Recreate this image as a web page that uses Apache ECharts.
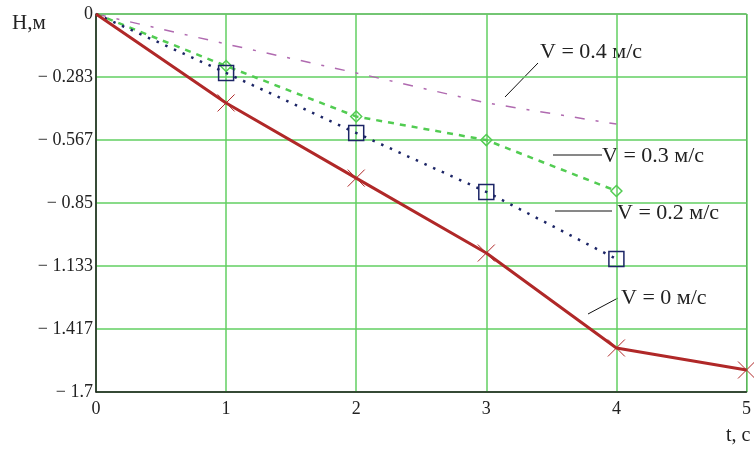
<!DOCTYPE html>
<html>
<head>
<meta charset="utf-8">
<script src="https://cdn.jsdelivr.net/npm/echarts@6/dist/echarts.min.js"></script>
<style>
  html, body { margin: 0; padding: 0; background: #fff; }
  #chart { width: 754px; height: 450px; }
</style>
</head>
<body>
<div id="chart"></div>
<script>
// Time, s
const times = [0, 1, 2, 3, 4, 5];

// Depth H (m) versus time for each flow velocity V
const depthV0  = [0, -0.400, -0.738, -1.075, -1.502, -1.601];
const depthV02 = [0, -0.265, -0.535, -0.800, -1.102];
const depthV03 = [0, -0.234, -0.461, -0.567, -0.796];
const depthV04 = [0, -0.135, -0.265, -0.400, -0.495];

// Axis tick labels
const yTickLabels = ['0', '− 0.283', '− 0.567', '− 0.85', '− 1.133', '− 1.417', '− 1.7'];
const xTickLabels = ['0', '1', '2', '3', '4', '5'];

const Y_MIN = -1.7;
const Y_STEP = 1.7 / 6;

const serif = "'Liberation Serif', 'Times New Roman', serif";
const textColor = '#222';

// [t, H] pairs; the shared starting point carries no marker
function pairs(ys) {
  return ys.map((y, i) => i === 0 ? { value: [times[i], y], symbol: 'none' } : [times[i], y]);
}

const chart = echarts.init(document.getElementById('chart'));

const option = {
  animation: false,
  backgroundColor: '#fff',
  grid: {
    left: 96, right: 6, top: 14, bottom: 58,
    show: true, borderColor: '#555', borderWidth: 1, backgroundColor: 'transparent'
  },
  xAxis: {
    type: 'value', min: 0, max: 5, interval: 1,
    axisLine: { show: true, onZero: false, lineStyle: { color: '#222', width: 1.5 } },
    axisTick: { show: false },
    splitLine: { show: true, lineStyle: { color: '#62cf62', width: 1.5 } },
    axisLabel: {
      margin: 8, color: textColor, fontFamily: serif, fontSize: 18,
      formatter: v => xTickLabels[Math.round(v)]
    }
  },
  yAxis: {
    type: 'value', min: Y_MIN, max: 0, interval: Y_STEP,
    axisLine: { show: true, onZero: false, lineStyle: { color: '#222', width: 1.5 } },
    axisTick: { show: false },
    splitLine: { show: true, lineStyle: { color: '#62cf62', width: 1.5 } },
    axisLabel: {
      margin: 3, color: textColor, fontFamily: serif, fontSize: 18,
      formatter: v => yTickLabels[Math.round(-v / Y_STEP)]
    }
  },
  series: [
    {
      name: 'V = 0.4 м/с', type: 'line', data: pairs(depthV04),
      symbol: 'none', z: 2,
      lineStyle: { color: '#b06ab0', width: 1.5, type: [10, 11, 3, 11] }
    },
    {
      name: 'V = 0.3 м/с', type: 'line', data: pairs(depthV03),
      symbol: 'diamond', symbolSize: 11, showSymbol: true, z: 3,
      lineStyle: { color: '#52cc52', width: 2.5, type: [6, 6] },
      itemStyle: { color: 'transparent', borderColor: '#52cc52', borderWidth: 1.5 }
    },
    {
      name: 'V = 0.2 м/с', type: 'line', data: pairs(depthV02),
      symbol: 'rect', symbolSize: 15, showSymbol: true, z: 4,
      lineStyle: { color: '#1c2566', width: 2.5, type: [2.5, 7] },
      itemStyle: { color: 'transparent', borderColor: '#1c2566', borderWidth: 1.5 }
    },
    {
      name: 'V = 0 м/с', type: 'line', data: pairs(depthV0),
      symbol: 'path://M0,0L10,10M10,0L0,10', symbolSize: 17, showSymbol: true, z: 5,
      lineStyle: { color: '#b02828', width: 3 },
      itemStyle: { color: 'transparent', borderColor: '#b02828', borderWidth: 1 }
    }
  ],
  graphic: [
    // axis captions
    { type: 'text', left: 12, top: 13, style: { text: 'Н,м', font: '21px ' + serif, fill: textColor } },
    { type: 'text', left: 726, top: 426, style: { text: 't, с', font: '20px ' + serif, fill: textColor } },

    // curve annotations with leader lines
    { type: 'line', shape: { x1: 505, y1: 97, x2: 538, y2: 63 }, style: { stroke: '#111', lineWidth: 1 } },
    { type: 'text', left: 540, top: 41, style: { text: 'V = 0.4 м/с', font: '22px ' + serif, fill: textColor } },

    { type: 'line', shape: { x1: 553, y1: 155, x2: 602, y2: 155 }, style: { stroke: '#111', lineWidth: 1 } },
    { type: 'text', left: 602, top: 145, style: { text: 'V = 0.3 м/с', font: '22px ' + serif, fill: textColor } },

    { type: 'line', shape: { x1: 555, y1: 211, x2: 612, y2: 211 }, style: { stroke: '#111', lineWidth: 1 } },
    { type: 'text', left: 617, top: 202, style: { text: 'V = 0.2 м/с', font: '22px ' + serif, fill: textColor } },

    { type: 'line', shape: { x1: 588, y1: 314, x2: 618, y2: 298 }, style: { stroke: '#111', lineWidth: 1 } },
    { type: 'text', left: 621, top: 287, style: { text: 'V = 0 м/с', font: '22px ' + serif, fill: textColor } }
  ]
};

chart.setOption(option);
</script>
</body>
</html>
